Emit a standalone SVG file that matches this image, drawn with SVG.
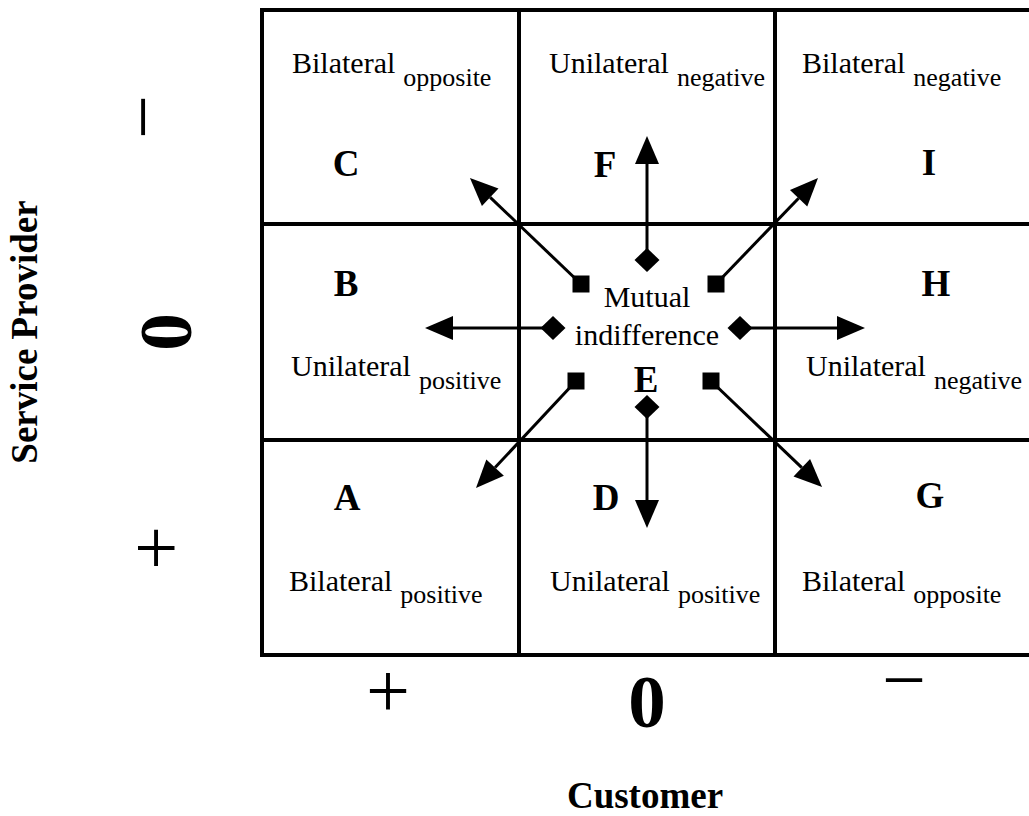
<svg xmlns="http://www.w3.org/2000/svg" width="1029" height="816" viewBox="0 0 1029 816">
  <style>
    text { font-family: "Liberation Serif", "Times New Roman", serif; fill: #000; }
    .lbl { font-size: 30px; }
    .sub { font-size: 26px; }
    .key { font-size: 37px; font-weight: bold; text-anchor: middle; }
    .axis { font-size: 78px; text-anchor: middle; }
    .zero { font-size: 75px; font-weight: bold; text-anchor: middle; }
    .title { font-size: 37px; font-weight: bold; text-anchor: middle; }
    .grid line { stroke: #000; stroke-width: 4; }
    .conn line { stroke: #000; stroke-width: 3; }
  </style>
  <defs>
    <marker id="arrow" markerUnits="userSpaceOnUse" markerWidth="30" markerHeight="26" refX="0" refY="12" orient="auto" overflow="visible">
      <path d="M0,0 L28,12 L0,24 Z" fill="#000"/>
    </marker>
    <marker id="square" markerUnits="userSpaceOnUse" markerWidth="18" markerHeight="18" refX="8.5" refY="8.5" orient="0" overflow="visible">
      <rect x="0" y="0" width="17" height="17" fill="#000"/>
    </marker>
    <marker id="diamond" markerUnits="userSpaceOnUse" markerWidth="26" markerHeight="26" refX="12.5" refY="12" orient="0" overflow="visible">
      <path d="M12.5,0 L25,12 L12.5,24 L0,12 Z" fill="#000"/>
    </marker>
  </defs>

  <rect width="1029" height="816" fill="#fff"/>

  <!-- 3x3 grid -->
  <g class="grid">
    <line x1="260" y1="10" x2="1040" y2="10"/>
    <line x1="260" y1="224" x2="1040" y2="224"/>
    <line x1="260" y1="440" x2="1040" y2="440"/>
    <line x1="260" y1="655" x2="1040" y2="655"/>
    <line x1="262" y1="8" x2="262" y2="657"/>
    <line x1="519" y1="8" x2="519" y2="657"/>
    <line x1="775" y1="8" x2="775" y2="657"/>
  </g>

  <!-- cells -->
  <g id="cell-C">
    <text class="lbl" x="292" y="73">Bilateral<tspan class="sub" dx="8" dy="13">opposite</tspan></text>
    <text class="key" x="346" y="176">C</text>
  </g>
  <g id="cell-F">
    <text class="lbl" x="549" y="73">Unilateral<tspan class="sub" dx="8" dy="13">negative</tspan></text>
    <text class="key" x="605" y="177">F</text>
  </g>
  <g id="cell-I">
    <text class="lbl" x="802" y="73">Bilateral<tspan class="sub" dx="8" dy="13">negative</tspan></text>
    <text class="key" x="929" y="175">I</text>
  </g>
  <g id="cell-B">
    <text class="key" x="346" y="296">B</text>
    <text class="lbl" x="291" y="376">Unilateral<tspan class="sub" dx="8" dy="13">positive</tspan></text>
  </g>
  <g id="cell-E">
    <text class="lbl" x="647" y="307" text-anchor="middle">Mutual</text>
    <text class="lbl" x="647" y="345" text-anchor="middle">indifference</text>
    <text class="key" x="646" y="392">E</text>
  </g>
  <g id="cell-H">
    <text class="key" x="936" y="296">H</text>
    <text class="lbl" x="806" y="376">Unilateral<tspan class="sub" dx="8" dy="13">negative</tspan></text>
  </g>
  <g id="cell-A">
    <text class="key" x="347" y="510">A</text>
    <text class="lbl" x="289" y="591">Bilateral<tspan class="sub" dx="8" dy="12">positive</tspan></text>
  </g>
  <g id="cell-D">
    <text class="key" x="606" y="510">D</text>
    <text class="lbl" x="550" y="591">Unilateral<tspan class="sub" dx="8" dy="12">positive</tspan></text>
  </g>
  <g id="cell-G">
    <text class="key" x="930" y="508">G</text>
    <text class="lbl" x="802" y="591">Bilateral<tspan class="sub" dx="8" dy="12">opposite</tspan></text>
  </g>

  <!-- connectors radiating from the centre cell -->
  <g class="conn">
    <line x1="647" y1="260" x2="647" y2="164" marker-start="url(#diamond)" marker-end="url(#arrow)"/>
    <line x1="647" y1="407" x2="647" y2="500" marker-start="url(#diamond)" marker-end="url(#arrow)"/>
    <line x1="553" y1="328" x2="453" y2="328" marker-start="url(#diamond)" marker-end="url(#arrow)"/>
    <line x1="740" y1="328" x2="837" y2="328" marker-start="url(#diamond)" marker-end="url(#arrow)"/>
    <line x1="581" y1="284" x2="490.2" y2="197.3" marker-start="url(#square)" marker-end="url(#arrow)"/>
    <line x1="716" y1="284" x2="798.6" y2="198.2" marker-start="url(#square)" marker-end="url(#arrow)"/>
    <line x1="576" y1="381" x2="495.1" y2="467.6" marker-start="url(#square)" marker-end="url(#arrow)"/>
    <line x1="711" y1="381" x2="801.8" y2="467.7" marker-start="url(#square)" marker-end="url(#arrow)"/>
  </g>

  <!-- vertical axis: service provider -->
  <g id="axis-provider">
    <text class="title" transform="translate(37,332) rotate(-90)">Service Provider</text>
    <text class="axis" transform="translate(169,117) rotate(-90)">−</text>
    <text class="zero" transform="translate(191,332) rotate(-90)">0</text>
    <text class="axis" transform="translate(182,548) rotate(-90)">+</text>
  </g>

  <!-- horizontal axis: customer -->
  <g id="axis-customer">
    <text class="axis" x="388" y="717">+</text>
    <text class="zero" x="647" y="727">0</text>
    <text class="axis" x="904" y="706">−</text>
    <text class="title" x="645" y="808">Customer</text>
  </g>
</svg>
